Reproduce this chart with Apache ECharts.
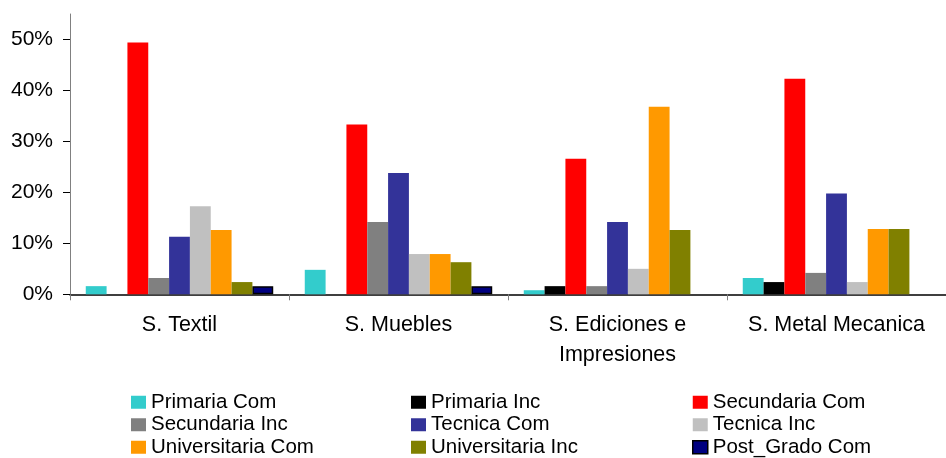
<!DOCTYPE html>
<html>
<head>
<meta charset="utf-8">
<script src="https://cdn.jsdelivr.net/npm/echarts@6/dist/echarts.min.js"></script>
<style>
  html, body { margin: 0; padding: 0; background: #ffffff; }
  #chart { width: 946px; height: 458px; }
</style>
</head>
<body>
<div id="chart"></div>
<script>
// Sectors on the category axis
const categories = ['S. Textil', 'S. Muebles', 'S. Ediciones e\nImpresiones', 'S. Metal Mecanica'];

// Share of workers by education level (fractions of 1)
const primariaCom      = [0.016, 0.048, 0.008, 0.032];
const primariaInc      = [0.000, 0.000, 0.016, 0.024];
const secundariaCom    = [0.494, 0.333, 0.266, 0.423];
const secundariaInc    = [0.032, 0.142, 0.016, 0.042];
const tecnicaCom       = [0.113, 0.238, 0.142, 0.198];
const tecnicaInc       = [0.173, 0.079, 0.050, 0.024];
const universitariaCom = [0.126, 0.079, 0.368, 0.128];
const universitariaInc = [0.024, 0.063, 0.126, 0.128];
const postGradoCom     = [0.016, 0.016, 0.000, 0.000];

// Value axis ticks
const yTicks = [0, 0.1, 0.2, 0.3, 0.4, 0.5];
const yMax = 0.55;

const seriesDefs = [
  { name: 'Primaria Com',      data: primariaCom,      color: '#33CCCC' },
  { name: 'Primaria Inc',      data: primariaInc,      color: '#000000' },
  { name: 'Secundaria Com',    data: secundariaCom,    color: '#FF0000' },
  { name: 'Secundaria Inc',    data: secundariaInc,    color: '#808080' },
  { name: 'Tecnica Com',       data: tecnicaCom,       color: '#333399' },
  { name: 'Tecnica Inc',       data: tecnicaInc,       color: '#C0C0C0' },
  { name: 'Universitaria Com', data: universitariaCom, color: '#FF9900' },
  { name: 'Universitaria Inc', data: universitariaInc, color: '#808000' },
  { name: 'Post_Grado Com',    data: postGradoCom,     color: '#000080', border: true }
];

const FONT = "'Liberation Sans', Arial, sans-serif";

const legendColumns = [
  ['Primaria Com', 'Secundaria Inc', 'Universitaria Com'],
  ['Primaria Inc', 'Tecnica Com', 'Universitaria Inc'],
  ['Secundaria Com', 'Tecnica Inc', 'Post_Grado Com']
];
const legendLefts = [131, 411, 692];

const chart = echarts.init(document.getElementById('chart'), null, { renderer: 'canvas' });

chart.setOption({
  animation: false,
  backgroundColor: '#ffffff',
  grid: { left: 70, top: 14, width: 888, height: 280.3, containLabel: false },
  legend: legendColumns.map((names, i) => ({
    orient: 'vertical',
    left: legendLefts[i],
    top: 391,
    width: 260,
    height: 90,
    padding: 0,
    data: names.map(n => {
      const def = seriesDefs.find(s => s.name === n);
      return def.border
        ? { name: n, itemStyle: { borderColor: '#000000', borderWidth: 1.5 } }
        : { name: n };
    }),
    itemWidth: 15,
    itemHeight: 13,
    itemGap: 0,
    icon: 'rect',
    selectedMode: false,
    textStyle: { fontFamily: FONT, fontSize: 20.5, color: '#000000', lineHeight: 22.5 }
  })),
  xAxis: {
    type: 'category',
    data: categories,
    boundaryGap: true,
    axisLine: { show: true, lineStyle: { color: '#000000', width: 1.5 } },
    axisTick: { show: true, length: 6, interval: 0, lineStyle: { color: '#808080', width: 1 } },
    axisLabel: {
      interval: 0, margin: 16,
      fontFamily: FONT, fontSize: 21.5, color: '#000000', lineHeight: 30, align: 'center'
    },
    splitLine: { show: false }
  },
  yAxis: {
    type: 'value',
    min: 0,
    max: yMax,
    interval: 0.1,
    axisLine: { show: true, lineStyle: { color: '#808080', width: 1 } },
    axisTick: { show: true, length: 7, customValues: yTicks, lineStyle: { color: '#000000', width: 1 } },
    axisLabel: {
      margin: 17,
      customValues: yTicks,
      fontFamily: FONT, fontSize: 21, color: '#000000',
      formatter: v => Math.round(v * 100) + '%'
    },
    splitLine: { show: false }
  },
  series: seriesDefs.map(s => ({
    name: s.name,
    type: 'bar',
    // empty cells get no outline
    data: s.data.map(v => (s.border && v === 0) ? { value: v, itemStyle: { borderWidth: 0 } } : v),
    barGap: '0%',
    barCategoryGap: '14.4%',
    itemStyle: s.border
      ? { color: s.color, borderColor: '#000000', borderWidth: 1.5 }
      : { color: s.color },
    emphasis: { disabled: true }
  }))
});
</script>
</body>
</html>
